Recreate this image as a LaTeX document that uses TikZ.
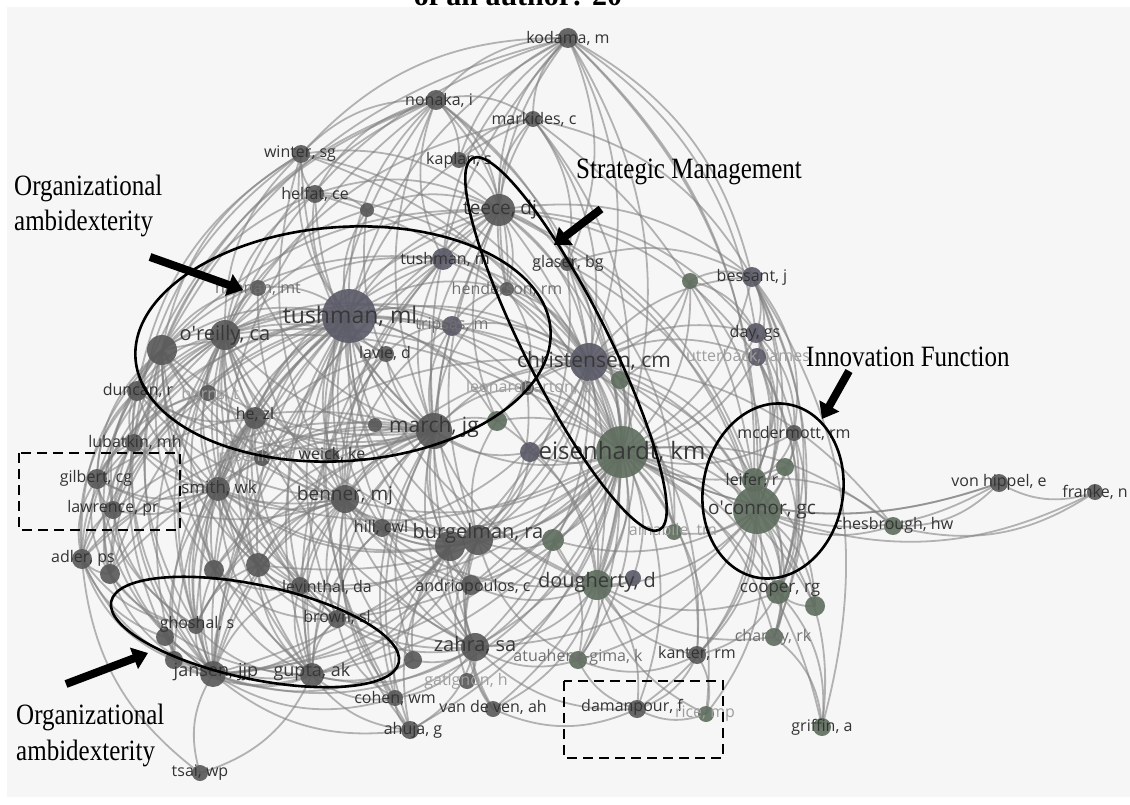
\documentclass[tikz,border=0pt]{standalone}
\usepackage{fontspec}
\newfontfamily\osans{Open Sans}
\newfontfamily\tnr{Liberation Serif}
\usetikzlibrary{arrows.meta,shapes.geometric}
\definecolor{bgc}{HTML}{F6F6F6}
\definecolor{cg}{HTML}{585858}
\definecolor{cp}{HTML}{5A5A68}
\definecolor{cv}{HTML}{5E6D5E}
\pgfdeclarelayer{back}
\pgfdeclarelayer{edges}
\pgfdeclarelayer{labels}
\pgfdeclarelayer{annot}
\pgfsetlayers{back,edges,main,labels,annot}
\newdimen\vax \newdimen\vay \newdimen\vbx \newdimen\vby
\tikzset{
  ball/.style={circle, inner sep=0pt, outer sep=0pt, draw=none, fill opacity=0.9},
  nodeg/.style={fill=cg},
  nodep/.style={fill=cp},
  nodev/.style={fill=cv},
  link/.style={draw=black!50, line width=1.8pt, draw opacity=0.58},
  lab/.style={inner sep=0pt, text=black!80, font=\osans\fontsize{16}{16}\selectfont},
  labM/.style={lab, text=black!56},
  labF/.style={lab, text=black!38},
  labB/.style={lab, text=black!78, font=\osans\fontsize{#1}{#1}\selectfont},
  ring/.style={draw=black, line width=2.6pt, ellipse, inner sep=0pt, outer sep=0pt, fill=none},
  dashbox/.style={draw=black, line width=2.8pt, dash pattern=on 10pt off 6pt},
  pointer/.style={line width=8pt, -{Triangle[length=15pt, width=22pt]}},
  note/.style={inner sep=0pt, align=left, font=\tnr\fontsize{25}{35}\selectfont},
}
% author node: name, x, y, radius, circle style, label x, label y, label style, label
\newcommand\vos[9]{%
  \node[ball, #5, minimum size=#4*2pt] (#1) at (#2,#3) {};
  \begin{pgfonlayer}{labels}\node[#8] (#1-t) at (#6,#7) {#9};\end{pgfonlayer}}
\newcommand\vosdot[5]{\node[ball, #5, minimum size=#4*2pt] (#1) at (#2,#3) {};}
% curved link, bowing away from the middle of the map
\newcommand\lk[2]{%
  \pgfextractx{\vax}{\pgfpointanchor{#1}{center}}%
  \pgfextracty{\vay}{\pgfpointanchor{#1}{center}}%
  \pgfextractx{\vbx}{\pgfpointanchor{#2}{center}}%
  \pgfextracty{\vby}{\pgfpointanchor{#2}{center}}%
  \pgfmathsetmacro\bnd{(((\the\vax-500)/100)*((\the\vby+430)/100)-((\the\vay+430)/100)*((\the\vbx-500)/100))<0 ? 24 : -24}%
  \draw[link] (#1.center) to[bend left=\bnd] (#2.center);}
\newcommand\hub[2]{\foreach \tgt in {#2}{\lk{#1}{\tgt}}}
% serif note, drawn a little taller than wide
\newcommand\tall[1]{\scalebox{1}[1.18]{#1}}
\begin{document}
\begin{tikzpicture}[x=1pt,y=-1pt]
\useasboundingbox (0,0) rectangle (1130,805);
\begin{pgfonlayer}{back}
  \fill[white] (0,0) rectangle (1130,805);
  \fill[bgc] (7,7) rectangle (1130,797);
\end{pgfonlayer}
\node[anchor=base, inner sep=0pt, font=\tnr\bfseries\fontsize{30}{30}\selectfont] (head) at (518,6) {of an author: 20};

% authors
\vos{kod}{568}{38}{10}{nodeg}{568}{38}{lab}{kodama, m}
\vos{non}{436}{100}{10}{nodeg}{439}{100}{lab}{nonaka, i}
\vos{mkd}{533}{119}{8}{nodeg}{534}{119}{lab}{markides, c}
\vos{win}{301}{154}{9}{nodeg}{300}{154}{lab}{winter, sg}
\vos{kap}{459}{160}{8}{nodeg}{459}{160}{lab}{kaplan, s}
\vos{hel}{315}{194}{9}{nodeg}{315}{194}{lab}{helfat, ce}
\vosdot{u1}{367}{210}{7}{nodeg}
\vos{tee}{499}{210}{16}{nodeg}{500}{210}{labB=19}{teece, dj}
\vos{tum}{443}{259}{11}{nodep}{445}{259}{lab}{tushman, m}
\vos{gla}{567}{264}{7}{nodeg}{568}{263}{lab}{glaser, bg}
\vos{bes}{752}{277}{10}{nodep}{752}{277}{lab}{bessant, j}
\vosdot{u2}{690}{281}{8}{nodev}
\vos{hen}{507}{289}{7}{nodeg}{507}{289}{labM}{henderson, rm}
\vos{han}{258}{288}{8}{nodeg}{258}{288}{labM}{hannan, mt}
\vos{tml}{349}{316}{27}{nodep}{350}{316}{labB=23}{tushman, ml}
\vos{ore}{225}{335}{15}{nodeg}{225}{335}{labB=20}{o\textquotesingle reilly, ca}
\vosdot{u3}{162}{350}{15}{nodeg}
\vos{tri}{452}{326}{10}{nodep}{452}{326}{labM}{tripsas, m}
\vos{day}{756}{333}{10}{nodep}{755}{333}{lab}{day, gs}
\vos{lav}{386}{354}{8}{nodeg}{385}{353}{lab}{lavie, d}
\vos{chr}{589}{362}{19}{nodep}{594}{361}{labB=21}{christensen, cm}
\vos{utt}{757}{357}{9}{nodep}{748}{357}{labF}{utterback, james}
\vosdot{u4}{620}{380}{9}{nodev}
\vos{dun}{137}{391}{10}{nodeg}{138}{390}{lab}{duncan, r}
\vos{bur}{208}{393}{8}{nodeg}{210}{394}{labF}{burns, t}
\vos{leo}{527}{388}{7}{nodeg}{529}{387}{labF}{leonardbarton, d}
\vos{hez}{255}{418}{11}{nodeg}{255}{414}{lab}{he, zl}
\vosdot{u5}{375}{425}{7}{nodeg}
\vos{mjg}{434}{431}{18}{nodeg}{434}{427}{labB=21}{march, jg}
\vosdot{u6}{497}{421}{10}{nodev}
\vos{lub}{134}{443}{9}{nodeg}{135}{442}{lab}{lubatkin, mh}
\vosdot{u7}{530}{452}{10}{nodep}
\vos{eis}{622}{452}{26}{nodev}{622}{452}{labB=24}{eisenhardt, km}
\vos{ros}{262}{458}{8}{nodeg}{262}{457}{labF}{rosenkopf, l}
\vos{wei}{332}{456}{7}{nodeg}{332}{454}{lab}{weick, ke}
\vos{mcd}{794}{433}{8}{nodeg}{794}{433}{lab}{mcdermott, rm}
\vosdot{u8}{785}{467}{9}{nodev}
\vos{lei}{754}{480}{12}{nodev}{752}{480}{lab}{leifer, r}
\vos{gil}{97}{479}{10}{nodeg}{96}{478}{lab}{gilbert, cg}
\vos{smi}{218}{489}{12}{nodeg}{219}{488}{labB=17}{smith, wk}
\vos{ben}{345}{499}{14}{nodeg}{345}{496}{labB=19}{benner, mj}
\vos{vhi}{999}{483}{9}{nodeg}{999}{482}{lab}{von hippel, e}
\vos{fra}{1095}{492}{8}{nodeg}{1095}{492}{lab}{franke, n}
\vos{oco}{757}{510}{24}{nodev}{762}{510}{labB=19}{o\textquotesingle connor, gc}
\vos{law}{113}{510}{9}{nodeg}{113}{508}{lab}{lawrence, pr}
\vos{hil}{382}{528}{9}{nodeg}{381}{527}{lab}{hill, cwl}
\vosdot{bga}{450}{546}{15}{nodeg}
\vos{bgb}{478}{540}{15}{nodeg}{478}{533}{labB=20}{burgelman, ra}
\vosdot{u9}{553}{540}{11}{nodev}
\vos{ama}{674}{532}{8}{nodev}{673}{530}{labF}{amabile, tm}
\vos{che}{893}{526}{9}{nodev}{894}{525}{lab}{chesbrough, hw}
\vos{adl}{82}{559}{10}{nodeg}{83}{558}{lab}{adler, ps}
\vosdot{u10}{110}{574}{10}{nodeg}
\vosdot{u11}{214}{570}{10}{nodeg}
\vosdot{u12}{258}{565}{12}{nodeg}
\vos{lev}{300}{586}{9}{nodeg}{327}{587}{lab}{levinthal, da}
\vos{bro}{337}{619}{9}{nodeg}{337}{617}{lab}{brown, sl}
\vos{gho}{196}{626}{8}{nodeg}{197}{624}{lab}{ghoshal, s}
\vosdot{u13}{165}{637}{9}{nodeg}
\vosdot{u14}{174}{660}{9}{nodeg}
\vos{jan}{213}{674}{13}{nodeg}{216}{672}{labB=18}{jansen, jjp}
\vos{gup}{312}{675}{12}{nodeg}{312}{672}{labB=18}{gupta, ak}
\vos{coh}{395}{698}{8}{nodeg}{395}{698}{lab}{cohen, wm}
\vos{anr}{471}{585}{10}{nodeg}{473}{587}{lab}{andriopoulos, c}
\vos{dou}{597}{585}{15}{nodev}{597}{582}{labB=20}{dougherty, d}
\vosdot{u15}{633}{578}{8}{nodep}
\vos{coo}{778}{592}{12}{nodev}{780}{590}{labB=17}{cooper, rg}
\vosdot{u16}{815}{606}{10}{nodev}
\vos{cha}{774}{637}{9}{nodev}{773}{637}{labM}{chandy, rk}
\vos{zah}{475}{647}{14}{nodeg}{475}{645}{labB=20}{zahra, sa}
\vosdot{u17}{413}{660}{9}{nodeg}
\vos{atu}{578}{660}{9}{nodev}{578}{657}{labM}{atuahene-gima, k}
\vos{kan}{697}{655}{9}{nodeg}{697}{653}{lab}{kanter, rm}
\vos{gat}{467}{681}{8}{nodeg}{466}{681}{labF}{gatignon, h}
\vos{van}{493}{709}{8}{nodeg}{493}{707}{lab}{van de ven, ah}
\vos{dam}{637}{709}{9}{nodeg}{632}{707}{lab}{damanpour, f}
\vos{ric}{706}{714}{8}{nodev}{705}{714}{labF}{rice, mp}
\vos{ahu}{410}{730}{9}{nodeg}{413}{730}{lab}{ahuja, g}
\vos{gri}{822}{727}{9}{nodev}{822}{727}{lab}{griffin, a}
\vos{tsa}{200}{773}{8}{nodeg}{200}{773}{lab}{tsai, wp}

% co-citation links
\begin{pgfonlayer}{edges}
\hub{kod}{non,mkd,kap,tee,tum,gla,chr,bes,day,oco,hen,tml,ore,u3,win,lei,eis,mjg}
\hub{non}{mkd,kap,tee,tum,tml,ore,win,hel,chr,hen,mjg,u3,eis,smi,ben,dun}
\hub{mkd}{tee,chr,eis,tml,oco,bes,gla,ore,kap,hen}
\hub{win}{hel,tee,tml,ore,u3,mjg,eis,chr,ben,lub,dun}
\hub{hel}{tee,tml,ore,mjg,eis,chr,u1,u3}
\hub{u1}{tml,ore,mjg,tee}
\hub{tee}{tml,chr,eis,oco,mjg,ore,kap,tum,gla,hen,bes,day,ben,bgb,dou,zah,jan,u3,smi,lei,u6,utt}
\hub{tum}{tml,ore,chr,eis,mjg,ben,u3,jan,hen,gup,smi}
\hub{gla}{eis,chr,oco,dou,bgb,bes,ama}
\hub{bes}{day,utt,oco,lei,mcd,coo,eis,chr,u2,gri,cha}
\hub{u2}{day,eis,oco,chr,u4}
\hub{day}{utt,oco,lei,coo,eis,chr,mcd}
\hub{utt}{oco,lei,chr,eis,coo,cha}
\hub{hen}{tml,chr,eis,mjg,tri,leo}
\hub{han}{tml,ore,mjg,ben,u3}
\hub{tml}{ore,u3,tri,lav,chr,mjg,eis,hez,dun,bur,smi,ben,bga,bgb,jan,gup,u12,u11,lev,bro,gho,zah,dou,oco,wei,ros,gil,law,lub,adl,hil,anr,u5,u7,u6,leo,u10,u14,coh,ahu}
\hub{ore}{u3,mjg,hez,dun,bur,smi,ben,jan,gup,gil,law,lub,adl,u10,u11,u12,lev,bro,gho,eis,chr,bgb,zah,u14,lav,tri,wei,ros,anr}
\hub{u3}{dun,lub,gil,law,adl,smi,ben,jan,gup,mjg,hez,u10,u11,u12,eis,bgb,lev,gho,u13}
\hub{tri}{chr,eis,mjg,ben,bgb,lav}
\hub{lav}{mjg,ben,jan,gup,smi}
\hub{chr}{eis,oco,mjg,ben,bgb,bga,dou,zah,lei,coo,u4,leo,u6,u7,smi,jan,anr,atu,ama,kan,hil,u9,che}
\hub{u4}{eis,oco,dou}
\hub{dun}{lub,gil,law,smi,adl,jan,hez,mjg,ben}
\hub{bur}{lub,gil,smi,law,mjg,hez,u10}
\hub{leo}{eis,mjg,bgb,dou}
\hub{hez}{jan,gup,smi,ben,mjg,lev,gho,u12,u11,bro,u14}
\hub{mjg}{ben,bga,bgb,eis,lev,jan,gup,zah,smi,u12,u11,bro,gho,wei,ros,dou,anr,hil,coh,ahu,u17,u10,adl,law,gil,u6}
\hub{u6}{eis,bgb,dou}
\hub{u7}{eis,mjg,bgb,dou}
\hub{lub}{gil,law,adl,smi,jan,u10,ben}
\hub{eis}{oco,lei,mcd,u8,coo,dou,bgb,bga,zah,u9,ama,atu,kan,che,vhi,cha,ben,smi,jan,gup,anr,u15,coh,dam,gri,ahu,u16,bro,lev,u12,hil,gat,ric,van}
\hub{mcd}{oco,lei,coo,u8}
\hub{u8}{oco,lei,coo}
\hub{lei}{oco,coo,u16,cha,che,kan}
\hub{gil}{law,adl,smi,jan,u10,gho,ben}
\hub{smi}{ben,jan,gup,law,adl,u11,u12,lev,gho,bro,zah,bgb,u10,u14}
\hub{ben}{bga,bgb,jan,gup,lev,bro,gho,u12,u11,zah,anr,hil,coh,u17,dou,ahu}
\hub{vhi}{fra,che,oco,eis}
\hub{fra}{che,oco}
\hub{oco}{coo,u16,cha,che,kan,atu,dou,ric,dam,gri,u9,ama,zah}
\hub{law}{adl,u10,jan,gho}
\hub{hil}{bgb,zah,gup,bro}
\hub{bga}{zah,anr,jan,gup,coh,ahu,u17,lev,bro,smi}
\hub{bgb}{zah,dou,anr,u9,atu,gat,van,jan,gup}
\hub{u9}{dou,zah,atu}
\hub{adl}{u10,jan,gho,u13,u14,tsa}
\hub{u10}{jan,gup,gho}
\hub{u11}{jan,gup,lev,bro}
\hub{u12}{jan,gup,lev,bro,gho}
\hub{u13}{jan,gup}
\hub{u14}{jan,gup}
\hub{lev}{bro,jan,gup,zah}
\hub{bro}{jan,gup,zah,coh}
\hub{gho}{jan,gup}
\hub{jan}{gup,tsa,zah,coh,ahu,u17}
\hub{gup}{tsa,zah,coh,u17,ahu}
\hub{coh}{ahu,zah}
\hub{anr}{zah,dou,van}
\hub{dou}{zah,atu,kan,coo,dam,ric,cha,u15,van}
\hub{coo}{u16,cha,gri,kan}
\hub{cha}{gri}
\hub{zah}{atu,gat,van,ahu,u17,dam}
\hub{atu}{kan,dam}
\hub{kan}{dam,ric}
\hub{van}{dam}
\hub{dam}{ric}
\end{pgfonlayer}

% cluster marks and notes
\begin{pgfonlayer}{annot}
\node[ring, minimum width=416pt, minimum height=234pt, rotate=4] (amb1) at (343,344) {};
\node[ring, minimum width=416pt, minimum height=84pt, rotate=-63.3] (strat) at (566,344) {};
\node[ring, minimum width=140pt, minimum height=176pt, rotate=-10] (innov) at (773,491) {};
\node[ring, minimum width=294pt, minimum height=94pt, rotate=-12] (amb2) at (255,632) {};
\draw[dashbox] (19,453) rectangle (180,530);
\draw[dashbox] (564,681) rectangle (723,758);

\node[note, anchor=west] (n1a) at (14,188) {\tall{Organizational}};
\node[note, anchor=west] (n1b) at (14,223) {\tall{ambidexterity}};
\node[note, anchor=west] (n2) at (576,172) {\tall{Strategic Management}};
\node[note, anchor=west] (n3) at (806,357) {\tall{Innovation Function}};
\node[note, anchor=west] (n4a) at (16,717) {\tall{Organizational}};
\node[note, anchor=west] (n4b) at (16,753) {\tall{ambidexterity}};

\coordinate (a1s) at (150,257); \coordinate (a1e) at (243,290);
\coordinate (a2s) at (601,209); \coordinate (a2e) at (554,245);
\coordinate (a3s) at (849,371); \coordinate (a3e) at (822,419);
\coordinate (a4s) at (66,684);  \coordinate (a4e) at (148,653);
\draw[pointer] (a1s) -- (a1e);
\draw[pointer] (a2s) -- (a2e);
\draw[pointer] (a3s) -- (a3e);
\draw[pointer] (a4s) -- (a4e);
\end{pgfonlayer}
\end{tikzpicture}
\end{document}
